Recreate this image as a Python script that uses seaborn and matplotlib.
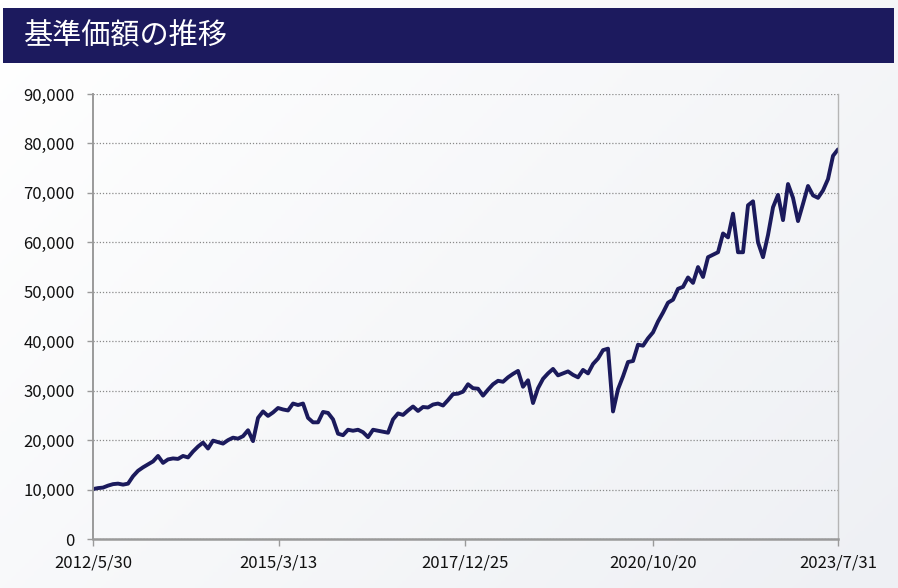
import numpy as np
import pandas as pd
import matplotlib
matplotlib.use("Agg")
import matplotlib.pyplot as plt
from matplotlib.ticker import FuncFormatter
import seaborn as sns

start_date = "2012-05-30"
end_date = "2023-07-31"
nav = [
    10100, 10300, 10400, 10800, 11100, 11200, 11000, 11200, 12700, 13800,
    14500, 15100, 15700, 16800, 15400, 16100, 16300, 16200, 16800, 16500,
    17700, 18700, 19500, 18300, 19900, 19600, 19300, 20000, 20500, 20300,
    20800, 22000, 19800, 24500, 25800, 24900, 25600, 26500, 26200, 26000,
    27400, 27100, 27400, 24500, 23600, 23600, 25700, 25500, 24200, 21300,
    21000, 22100, 21900, 22100, 21600, 20600, 22100, 21900, 21700, 21500,
    24200, 25400, 25100, 26000, 26800, 25900, 26700, 26600, 27200, 27400,
    27000, 28100, 29300, 29400, 29800, 31300, 30500, 30400, 29000, 30200,
    31300, 32000, 31800, 32700, 33400, 34000, 30800, 32100, 27500, 30500,
    32400, 33500, 34400, 33100, 33500, 33900, 33200, 32700, 34200, 33500,
    35400, 36500, 38200, 38500, 25800, 30300, 32900, 35800, 36000, 39300,
    39100, 40600, 41800, 44000, 45800, 47800, 48400, 50600, 51000, 52900,
    51800, 55000, 53000, 57000, 57500, 58000, 61800, 61000, 65800, 58000,
    58000, 67500, 68300, 60000, 57000, 61500, 67100, 69600, 64500, 71800,
    69000, 64300, 67800, 71400, 69500, 69000, 70500, 72800, 77500, 78800,
]
tick_dates = ["2012-05-30", "2015-03-13", "2017-12-25", "2020-10-20", "2023-07-31"]
tick_labels = ["2012/5/30", "2015/3/13", "2017/12/25", "2020/10/20", "2023/7/31"]
title = "基準価額の推移"

dates = pd.date_range(start_date, end_date, periods=len(nav))
df = pd.DataFrame({"date": dates, "nav": nav})

sns.set_theme(style="white")
plt.rcParams["font.family"] = ["Noto Sans CJK JP", "DejaVu Sans"]

fig = plt.figure(figsize=(8.98, 5.88), dpi=100)
fig.patch.set_facecolor("white")

# soft background gradient
bg = fig.add_axes([0, 0, 1, 1], zorder=-10)
gx, gy = np.meshgrid(np.linspace(0, 1, 200), np.linspace(0, 1, 200))
grad = 0.6 * gx + 0.4 * gy
bg.imshow(grad, cmap=sns.blend_palette(["#ffffff", "#eef0f4"], as_cmap=True),
          aspect="auto", extent=[0, 1, 0, 1], origin="upper")
bg.axis("off")

# title banner
banner = fig.add_axes([0.003, 0.893, 0.992, 0.094])
banner.set_facecolor("#1c1a5e")
banner.set_xticks([])
banner.set_yticks([])
for s in banner.spines.values():
    s.set_visible(False)
banner.text(0.024, 0.48, title, color="white", fontsize=21, va="center", ha="left",
            transform=banner.transAxes)

ax = fig.add_axes([0.1036, 0.0833, 0.8296, 0.7568])
ax.set_facecolor("none")
sns.lineplot(data=df, x="date", y="nav", ax=ax, color="#1b1a5c", linewidth=2.8)

ax.set_xlim(pd.Timestamp(start_date), pd.Timestamp(end_date))
ax.set_ylim(0, 90000)
ax.set_yticks(np.arange(0, 90001, 10000))
ax.yaxis.set_major_formatter(FuncFormatter(lambda v, _: f"{v:,.0f}"))
ax.set_xticks(pd.to_datetime(tick_dates))
ax.set_xticklabels(tick_labels)
ax.set_xlabel("")
ax.set_ylabel("")

ax.grid(axis="y", linestyle=(0, (1, 1.5)), color="#8a8a8a", linewidth=0.9)
ax.grid(axis="x", visible=False)
ax.spines["top"].set_visible(False)
ax.spines["left"].set_color("#9a9a9a")
ax.spines["left"].set_linewidth(1.4)
ax.spines["bottom"].set_color("#9a9a9a")
ax.spines["bottom"].set_linewidth(1.8)
ax.spines["right"].set_color("#b5b5b5")
ax.spines["right"].set_linewidth(1.0)

ax.tick_params(axis="y", direction="out", length=4, width=1, color="#9a9a9a",
               pad=9, labelsize=12, labelcolor="#111111", left=True)
ax.tick_params(axis="x", direction="out", length=5, width=1, color="#9a9a9a",
               pad=6, labelsize=12, labelcolor="#111111", bottom=True)

fig.savefig("out.png", dpi=100)
